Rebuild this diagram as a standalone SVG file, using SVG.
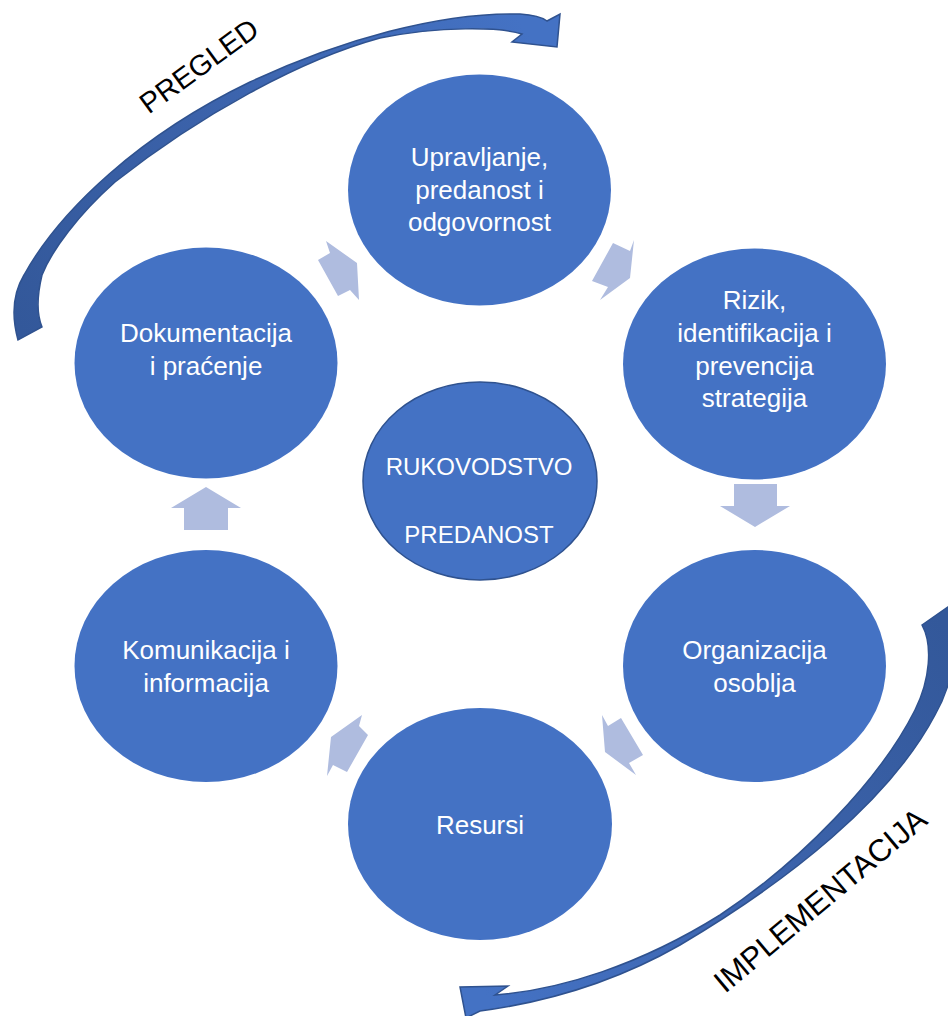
<svg xmlns="http://www.w3.org/2000/svg" width="948" height="1016" viewBox="0 0 948 1016">
<style>
.node{fill:#4472C4}
.ctr{fill:#4472C4;stroke:#2F528F;stroke-width:1.5}
.t{font-family:"Liberation Sans",Arial,sans-serif;font-size:26px;fill:#FFFFFF;text-anchor:middle}
.tc{font-family:"Liberation Sans",Arial,sans-serif;font-size:24px;fill:#FFFFFF;text-anchor:middle}
.lbl{font-family:"Liberation Sans",Arial,sans-serif;fill:#000000;text-anchor:middle}
.sa{fill:#AFBCDF}
.big{stroke:#2F528F;stroke-width:1.5;stroke-linejoin:miter}
</style>
<defs>
<linearGradient id="gTop" gradientUnits="userSpaceOnUse" x1="20" y1="330" x2="520" y2="20">
<stop offset="0" stop-color="#33589A"/>
<stop offset="0.45" stop-color="#3B62AA"/>
<stop offset="1" stop-color="#4472C4"/>
</linearGradient>
<linearGradient id="gBot" gradientUnits="userSpaceOnUse" x1="940" y1="620" x2="490" y2="1000">
<stop offset="0" stop-color="#33589A"/>
<stop offset="0.45" stop-color="#3B62AA"/>
<stop offset="1" stop-color="#4472C4"/>
</linearGradient>
</defs>

<g id="connectors">
<path id="arrow-pregled" class="big" fill="url(#gTop)" d="M18,340 C12,318 12,295 24,275 C60,210 140,135 250,82 C340,40 440,12 520,14 C535,15 543,18 547,21 L560,14 L557,47 L512,42 L522,34 C500,27 440,26 380,38 C300,60 200,115 115,182 C78,215 52,250 42,275 C36,300 37,315 42,327 Z"/>
<path id="arrow-implementacija" class="big" fill="url(#gBot)" d="M922,625 L952,604 C958,640 955,680 935,715 C890,800 790,880 680,945 C610,985 540,1003 480,1011 L466,1018 L460,987 L508,986 L495,995 C560,990 640,965 720,915 C800,862 880,780 915,710 C930,680 933,645 922,625 Z"/>
<polygon class="sa" points="326,241 357,263 359,300 350,290 338,296 318,260 330,253"/>
<polygon class="sa" points="634,240 630,278 600,300 608,287 592,281 613,243 630,251"/>
<polygon class="sa" points="734,484 777,484 777,506 790,506 755,527 720,506 734,506"/>
<polygon class="sa" points="602,715 608,726 621,718 643,755 629,763 636,775 605,752"/>
<polygon class="sa" points="362,715 359,726 368,735 347,772 333,765 327,776 331,737"/>
<polygon class="sa" points="206,487 241,508 228,508 228,530 184,530 184,508 171,508"/>
</g>

<text id="label-pregled" class="lbl" font-size="29" transform="translate(199,66) rotate(-36)" y="10">PREGLED</text>
<text id="label-implementacija" class="lbl" font-size="31" transform="translate(820,900) rotate(-40)" y="11">IMPLEMENTACIJA</text>

<g id="node-upravljanje">
<ellipse class="node" cx="479.5" cy="190" rx="131.5" ry="115.5"/>
<text class="t" x="479.5" y="166">Upravljanje,</text>
<text class="t" x="479.5" y="199">predanost i</text>
<text class="t" x="479.5" y="231">odgovornost</text>
</g>
<g id="node-rizik">
<ellipse class="node" cx="754.5" cy="364" rx="131.5" ry="115.5"/>
<text class="t" x="754.5" y="309">Rizik,</text>
<text class="t" x="754.5" y="342">identifikacija i</text>
<text class="t" x="754.5" y="375">prevencija</text>
<text class="t" x="754.5" y="407">strategija</text>
</g>
<g id="node-organizacija">
<ellipse class="node" cx="754.5" cy="666" rx="131.5" ry="116"/>
<text class="t" x="754.5" y="659">Organizacija</text>
<text class="t" x="754.5" y="692">osoblja</text>
</g>
<g id="node-resursi">
<ellipse class="node" cx="480" cy="824" rx="132" ry="116"/>
<text class="t" x="480" y="834">Resursi</text>
</g>
<g id="node-komunikacija">
<ellipse class="node" cx="206" cy="666" rx="131.5" ry="116"/>
<text class="t" x="206" y="659">Komunikacija i</text>
<text class="t" x="206" y="692">informacija</text>
</g>
<g id="node-dokumentacija">
<ellipse class="node" cx="206" cy="363" rx="131.5" ry="115.5"/>
<text class="t" x="206" y="342">Dokumentacija</text>
<text class="t" x="206" y="375">i praćenje</text>
</g>
<g id="node-rukovodstvo">
<ellipse class="ctr" cx="480" cy="481" rx="117" ry="99"/>
<text class="tc" x="479" y="475">RUKOVODSTVO</text>
<text class="tc" x="479" y="543">PREDANOST</text>
</g>
</svg>
